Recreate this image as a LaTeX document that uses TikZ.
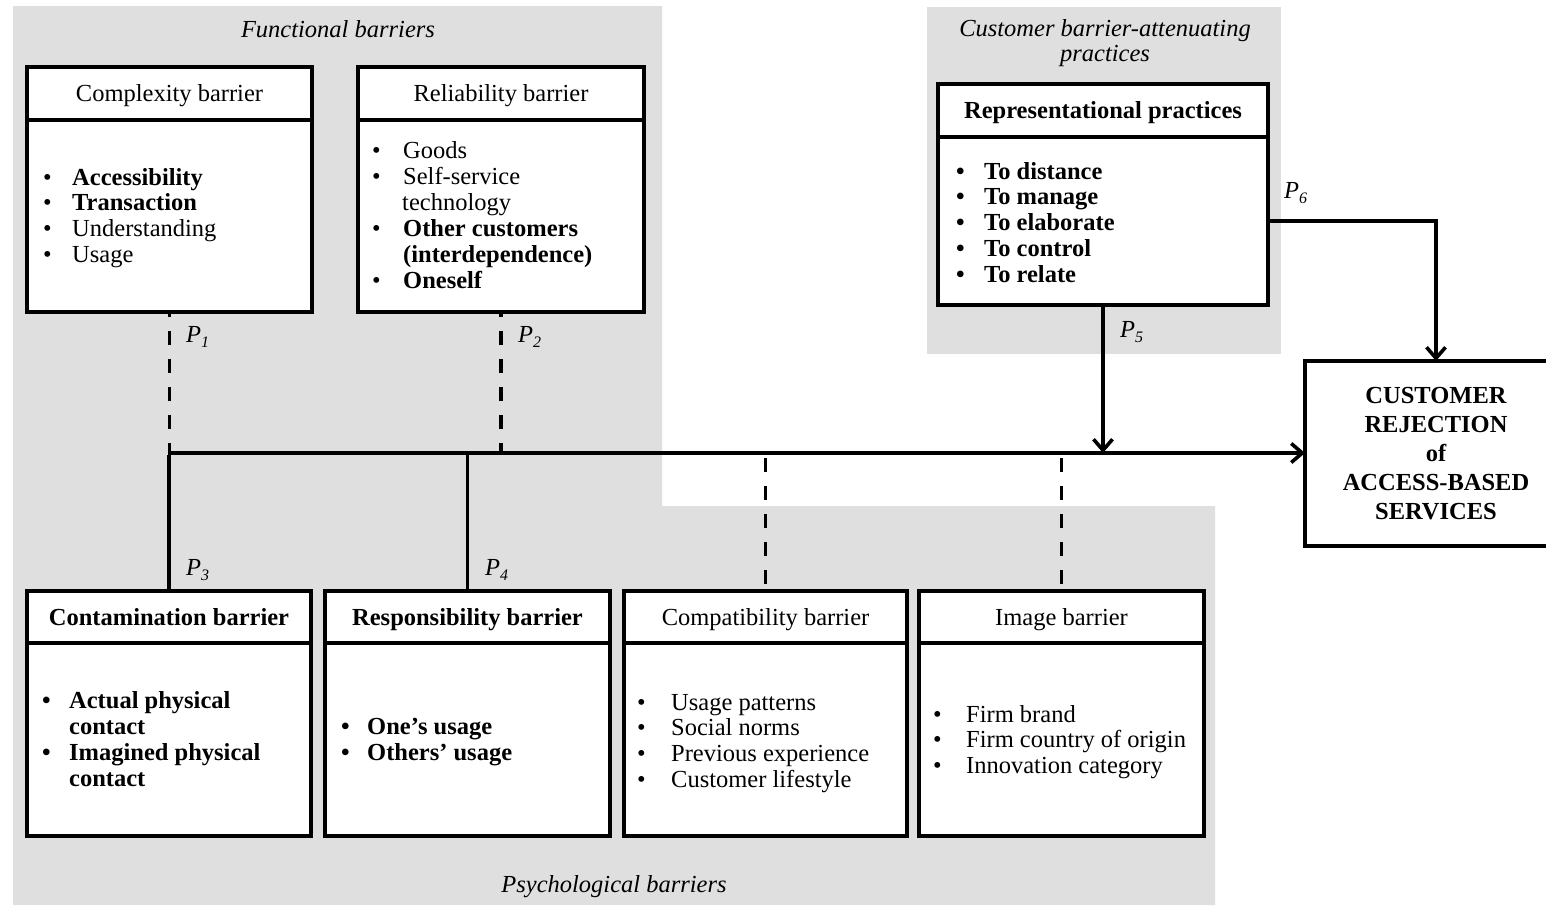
\documentclass[tikz,border=0pt]{standalone}
\usepackage{fontspec}
\setmainfont{Liberation Serif}
\usetikzlibrary{arrows.meta}
\definecolor{bg}{RGB}{223,223,223}
\newcommand\bu[1]{\makebox[#1pt][l]{\textbullet}}
\newcommand\ind[1]{\hspace*{#1pt}}
\newcommand\plab[1]{\textit{P}\raisebox{-5pt}{\fontsize{16}{16}\selectfont\textit{#1}}}
\newcommand\blist[2]{{\fontsize{24.5}{#1}\selectfont\begin{tabular}[t]{@{}l@{}}#2\end{tabular}}}
\begin{document}
\begin{tikzpicture}[x=1pt,y=-1pt,
  every node/.style={font=\fontsize{24.5}{26}\selectfont, inner sep=0pt},
  boxpart/.style={draw, line width=3.6pt, fill=white, anchor=north west, align=center, outer sep=0pt},
  hdtext/.style={text height=16.5pt, text depth=0pt},
  conn/.style={line width=3.6pt},
  arr/.style={-{Straight Barb[length=11pt,width=19pt]}},
  dashline/.style={line width=3.6pt, dash pattern=on 14pt off 14pt},
  ttl/.style={font=\fontsize{24.5}{25}\selectfont\itshape, align=center}]
\useasboundingbox (0,0) rectangle (1546,905);
\clip (0,0) rectangle (1546,905);
\fill[white] (0,0) rectangle (1546,905);
% gray regions
\fill[bg] (13,6) -- (662,6) -- (662,506) -- (1215,506) -- (1215,905) -- (13,905) -- cycle;
\fill[bg] (927,7) rectangle (1281,354);
% titles
\node[ttl] (tf) at (338,29) {Functional barriers};
\node[ttl] (tc) at (1105,43.5) {Customer barrier-attenuating\\practices};
\node[ttl] (tp) at (614,887) {Psychological barriers};
% top boxes
\node[boxpart, hdtext, minimum width=285pt, minimum height=53pt] (cx) at (27,67) {Complexity barrier};
\node[boxpart, minimum width=285pt, minimum height=192pt] (cxb) at (cx.south west) {};
\node[boxpart, hdtext, minimum width=286pt, minimum height=53pt] (rl) at (358,67) {Reliability barrier};
\node[boxpart, minimum width=286pt, minimum height=192pt] (rlb) at (rl.south west) {};
\node[boxpart, hdtext, minimum width=330pt, minimum height=53pt, font=\fontsize{24.5}{26}\selectfont\bfseries] (rp) at (938,84) {Representational practices};
\node[boxpart, minimum width=330pt, minimum height=168pt] (rpb) at (rp.south west) {};
% bottom boxes
\node[boxpart, hdtext, minimum width=284pt, minimum height=52pt, font=\fontsize{24.5}{26}\selectfont\bfseries] (ct) at (27,591) {Contamination barrier};
\node[boxpart, minimum width=284pt, minimum height=193pt] (ctb) at (ct.south west) {};
\node[boxpart, hdtext, minimum width=285pt, minimum height=52pt, font=\fontsize{24.5}{26}\selectfont\bfseries] (rs) at (325,591) {Responsibility barrier};
\node[boxpart, minimum width=285pt, minimum height=193pt] (rsb) at (rs.south west) {};
\node[boxpart, hdtext, minimum width=283pt, minimum height=52pt] (cp) at (624,591) {Compatibility barrier};
\node[boxpart, minimum width=283pt, minimum height=193pt] (cpb) at (cp.south west) {};
\node[boxpart, hdtext, minimum width=285pt, minimum height=52pt] (im) at (919,591) {Image barrier};
\node[boxpart, minimum width=285pt, minimum height=193pt] (imb) at (im.south west) {};
% outcome box
\node[draw, line width=3.6pt, fill=white, outer sep=0pt, minimum width=262pt, minimum height=185pt, align=center,
  font=\fontsize{24.5}{29}\selectfont\bfseries] (cr) at (1436,453.5)
  {CUSTOMER\\REJECTION\\of\\ACCESS-BASED\\SERVICES};
% lists
\node[anchor=base west] (cxl) at (43,185) {\blist{25.7}{\bu{29}\textbf{Accessibility}\\ \bu{29}\textbf{Transaction}\\ \bu{29}Understanding\\ \bu{29}Usage}};
\node[anchor=base west] (rll) at (372,158) {\blist{26}{\bu{31}Goods\\ \bu{31}Self-service\\ \ind{30}technology\\ \bu{31}\textbf{Other customers}\\ \ind{31}\textbf{(interdependence)}\\ \bu{31}\textbf{Oneself}}};
\node[anchor=base west] (rpl) at (956,179) {\blist{25.8}{\bfseries\bu{28}To distance\\ \bfseries\bu{28}To manage\\ \bfseries\bu{28}To elaborate\\ \bfseries\bu{28}To control\\ \bfseries\bu{28}To relate}};
\node[anchor=base west] (ctl) at (42,708) {\blist{26}{\bfseries\bu{27}Actual physical\\ \bfseries\ind{27}contact\\ \bfseries\bu{27}Imagined physical\\ \bfseries\ind{27}contact}};
\node[anchor=base west] (rsl) at (341,734) {\blist{26}{\bfseries\bu{26}One’s usage\\ \bfseries\bu{26}Others’ usage}};
\node[anchor=base west] (cpl) at (637,710) {\blist{25.7}{\bu{34}Usage patterns\\ \bu{34}Social norms\\ \bu{34}Previous experience\\ \bu{34}Customer lifestyle}};
\node[anchor=base west] (iml) at (933,722) {\blist{25.5}{\bu{33}Firm brand\\ \bu{33}Firm country of origin\\ \bu{33}Innovation category}};
% connectors
\coordinate (j1) at (cxb.south |- 0,453);
\draw[dashline, dash phase=9pt] (cxb.south) -- (j1);
\draw[dashline, dash phase=9pt] (rlb.south) -- (rlb.south |- j1);
\draw[conn, arr] ([xshift=-1.8pt]j1) -- (j1 -| cr.west);
\draw[conn] (ct.north) -- ([yshift=-1.8pt]ct.north |- j1);
\draw[conn] (rs.north) -- (rs.north |- j1);
\draw[dashline] (cp.north |- 0,458) -- (cp.north);
\draw[dashline] (im.north |- 0,458) -- (im.north);
\draw[conn, arr] (rpb.south) -- (rpb.south |- j1);
\draw[conn, arr] (rpb.east |- 0,221) -| (cr.north);
% labels
\node[anchor=west] (p1) at (186,337) {\plab{1}};
\node[anchor=west] (p2) at (518,337) {\plab{2}};
\node[anchor=west] (p3) at (186,570) {\plab{3}};
\node[anchor=west] (p4) at (485,570) {\plab{4}};
\node[anchor=west] (p5) at (1120,332) {\plab{5}};
\node[anchor=west] (p6) at (1284,193) {\plab{6}};
\end{tikzpicture}
\end{document}
